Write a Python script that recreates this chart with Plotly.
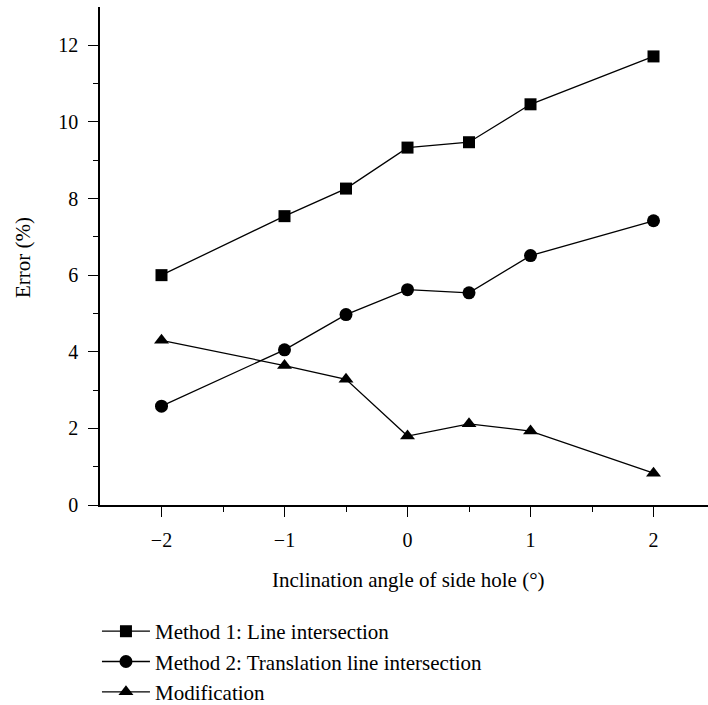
import plotly.graph_objects as go

angles = [-2, -1, -0.5, 0, 0.5, 1, 2]
method1 = [6.0, 7.54, 8.26, 9.33, 9.47, 10.46, 11.71]
method2 = [2.58, 4.05, 4.97, 5.62, 5.54, 6.51, 7.42]
modification = [4.30, 3.64, 3.28, 1.80, 2.12, 1.93, 0.83]

names = ["Method 1: Line intersection",
         "Method 2: Translation line intersection",
         "Modification"]
symbols = ["square", "circle", "triangle-up"]
sizes = [12, 13, 13]

FONT = "Liberation Serif"
fig = go.Figure()
for ys, nm, sym, sz in zip([method1, method2, modification], names, symbols, sizes):
    fig.add_trace(go.Scatter(
        x=angles, y=ys, name=nm, mode="lines+markers",
        line=dict(color="black", width=1.3),
        marker=dict(symbol=sym, size=sz, color="black"),
    ))

axis_common = dict(
    showline=True, linecolor="black", linewidth=1.5,
    ticks="outside", ticklen=10, tickwidth=1.3, tickcolor="black",
    showgrid=False, zeroline=False,
    tickfont=dict(family=FONT, size=20, color="black"),
    ticklabelstandoff=6,
)

fig.update_xaxes(range=[-2.5, 2.443], tickvals=[-2, -1, 0, 1, 2],
                 minor=dict(tickvals=[-1.5, -0.5, 0.5, 1.5], ticklen=5,
                            tickwidth=1.3, tickcolor="black", ticks="outside"),
                 **axis_common)
fig.update_yaxes(range=[0, 13], tickvals=[0, 2, 4, 6, 8, 10, 12],
                 minor=dict(tickvals=[1, 3, 5, 7, 9, 11], ticklen=5,
                            tickwidth=1.3, tickcolor="black", ticks="outside"),
                 **axis_common)

fig.update_layout(
    width=708, height=705,
    margin=dict(l=100, r=0, t=7, b=200, autoexpand=False),
    plot_bgcolor="white", paper_bgcolor="white",
    font=dict(family=FONT, size=21, color="black"),
    showlegend=True,
    legend=dict(x=-0.005, xanchor="left", y=-0.213, yanchor="top",
                yref="paper",
                font=dict(family=FONT, size=21, color="black"),
                itemwidth=48, tracegroupgap=0, bgcolor="rgba(0,0,0,0)"),
    annotations=[
        dict(text="Inclination angle of side hole (°)", xref="paper", yref="paper",
             x=0.508, y=-0.151, xanchor="center", yanchor="middle", showarrow=False,
             font=dict(family=FONT, size=21, color="black")),
        dict(text="Error (%)", xref="paper", yref="paper", textangle=-90,
             x=-0.1266, y=0.496, xanchor="center", yanchor="middle", showarrow=False,
             font=dict(family=FONT, size=21, color="black")),
    ],
)

fig.write_html("out.html")
